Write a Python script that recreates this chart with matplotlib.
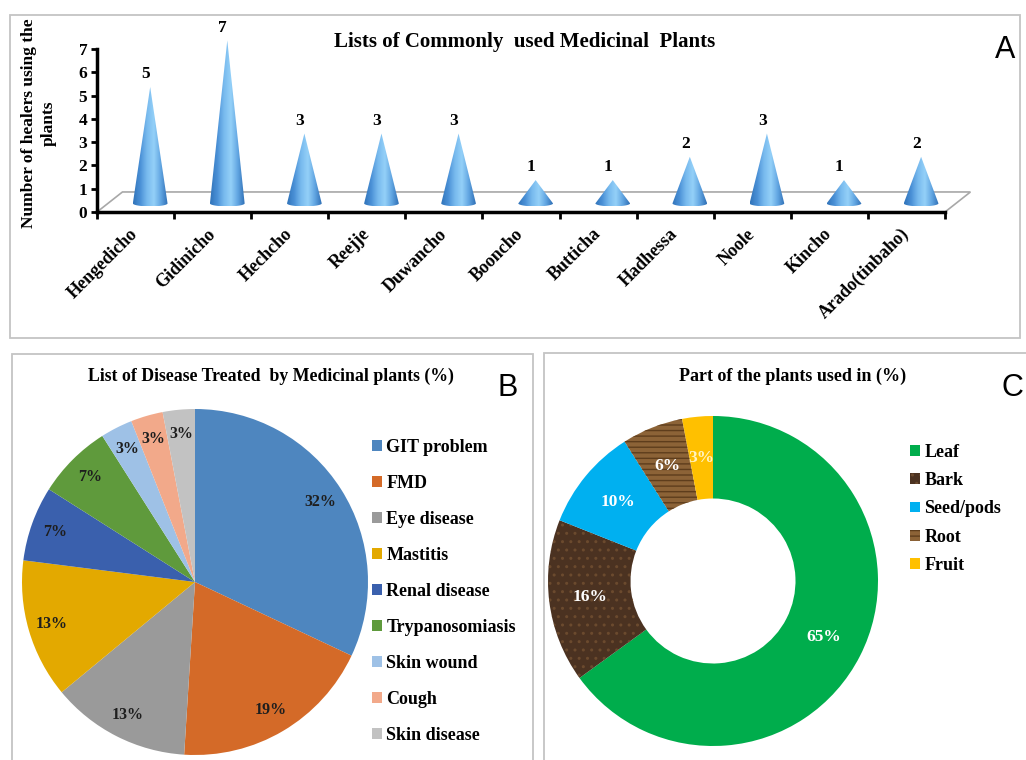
import matplotlib
matplotlib.use("Agg")
import matplotlib.pyplot as plt
import numpy as np
from matplotlib.patches import Polygon, Rectangle
from matplotlib.colors import LinearSegmentedColormap

plt.rcParams['font.family'] = ['Liberation Serif', 'DejaVu Serif']
plt.rcParams['font.weight'] = 'bold'
plt.rcParams['axes.labelweight'] = 'bold'

# panel A data
plants = ['Hengedicho', 'Gidinicho', 'Hechcho', 'Reejje', 'Duwancho', 'Booncho',
          'Butticha', 'Hadhessa', 'Noole', 'Kincho', 'Arado(tinbaho)']
healers = [5, 7, 3, 3, 3, 1, 1, 2, 3, 1, 2]

# panel B data
diseases = ['GIT problem', 'FMD', 'Eye disease', 'Mastitis', 'Renal disease',
            'Trypanosomiasis', 'Skin wound', 'Cough', 'Skin disease']
disease_pct = [32, 19, 13, 13, 7, 7, 3, 3, 3]
disease_colors = ['#4e86bf', '#d46a28', '#9a9a9a', '#e3a900', '#3a60ad',
                  '#5f9a3c', '#9ec1e6', '#f2a98a', '#c2c2c2']

# panel C data
parts = ['Leaf', 'Bark', 'Seed/pods', 'Root', 'Fruit']
part_pct = [65, 16, 10, 6, 3]
part_colors = ['#00ad4c', '#4b3221', '#00b0f0', '#8c6337', '#ffc000']

W, H = 1026, 760
fig = plt.figure(figsize=(W / 100, H / 100), dpi=100)

def fx(px):
    return px / W

def fy(py):
    return 1 - py / H

# frames
frame_kw = dict(transform=fig.transFigure, fill=False, edgecolor='#c4c4c4', lw=1.3)
fig.patches.append(Rectangle((fx(10), fy(338)), fx(1010), 323 / H, **frame_kw))
fig.patches.append(Rectangle((fx(12), fy(762)), fx(521), 408 / H, **frame_kw))
fig.patches.append(Rectangle((fx(544), fy(762)), fx(490), 409 / H, **frame_kw))

# ---------------- A: cones ----------------
ax = fig.add_axes([fx(97), fy(212), fx(848), 7.6 * 23.29 / H])
for s in ['top', 'right']:
    ax.spines[s].set_visible(False)
ax.spines['left'].set_bounds(0, 7)
ax.spines['bottom'].set_bounds(-0.5, 10.5)
ax.spines['left'].set_linewidth(2.5)
ax.spines['bottom'].set_linewidth(2.5)
ax.set_yticks(range(8))
ax.tick_params(axis='y', direction='out', length=4, width=2, labelsize=12.5, pad=3)
ax.set_xticks(np.arange(-0.5, 11, 1))
ax.set_xticklabels([])
ax.tick_params(axis='x', which='major', direction='out', length=5, width=2)
ax.set_xticks(range(len(plants)), minor=True)
ax.set_xticklabels(plants, minor=True, rotation=45, ha='right', va='center',
                   rotation_mode='anchor', fontsize=13)
ax.tick_params(axis='x', which='minor', length=0, pad=14)
ax.set_ylabel('Number of healers using the\nplants', fontsize=12.5, labelpad=16,
              linespacing=1.3)

dx, dy = 0.19, 0.37
floor = Polygon([(-0.5, 0), (10.5, 0), (10.5 + 0.33, 0.86), (-0.5 + 0.33, 0.86)],
                closed=True, facecolor='white', edgecolor='#a8a8a8', lw=1.2,
                clip_on=False, zorder=1)
ax.add_patch(floor)

cone_cmap = LinearSegmentedColormap.from_list(
    'cone', ['#3174ba', '#4a90d6', '#78baee', '#94d0f8', '#62a6e2', '#3070b6'])
grad = np.linspace(0, 1, 64).reshape(1, -1)
w, eh = 0.225, 0.13
t = np.linspace(0, -np.pi, 40)
for i, v in enumerate(healers):
    cx = i + dx
    top = v + dy
    pts = [(cx, top)] + list(zip(cx + w * np.cos(t), dy + eh * np.sin(t)))
    cone = Polygon(pts, closed=True, facecolor='none', edgecolor='none',
                   transform=ax.transData)
    ax.add_patch(cone)
    im = ax.imshow(grad, cmap=cone_cmap, aspect='auto',
                   extent=(cx - w, cx + w, dy - eh, top), zorder=3)
    im.set_clip_path(cone)
    ax.text(i + dx - 0.06, top + 0.2, str(v), ha='center', va='bottom',
            fontsize=12.5, clip_on=False)
ax.set_xlim(-0.5, 10.5)
ax.set_ylim(0, 7.6)

fig.text(fx(525), fy(42), 'Lists of Commonly  used Medicinal  Plants',
         ha='center', va='center', fontsize=15)
fig.text(fx(1005), fy(50), 'A', ha='center', va='center', fontsize=22,
         fontweight='normal', family='Liberation Sans')

# ---------------- B: pie ----------------
axb = fig.add_axes([fx(22), fy(755), fx(346), 346 / H])
wedges_b, _, autos_b = axb.pie(disease_pct, colors=disease_colors, startangle=90,
                               counterclock=False, autopct=lambda p: '%.0f%%' % p,
                               pctdistance=0.86,
                               wedgeprops=dict(linewidth=0),
                               textprops=dict(fontsize=11.5, color='#1e1e1e'))
axb.set_xlim(-1, 1)
axb.set_ylim(-1, 1)
fig.text(fx(271), fy(376), 'List of Disease Treated  by Medicinal plants (%)',
         ha='center', va='center', fontsize=12.8)
fig.text(fx(508), fy(388), 'B', ha='center', va='center', fontsize=22,
         fontweight='normal', family='Liberation Sans')
fig.legend(wedges_b, diseases, loc='upper left', bbox_to_anchor=(fx(372), fy(439)),
           frameon=False, fontsize=13, handlelength=0.55, handleheight=0.55,
           handletextpad=0.25, labelspacing=1.05, borderpad=0, borderaxespad=0)

# ---------------- C: donut ----------------
axc = fig.add_axes([fx(548), fy(746), fx(330), 330 / H])
wedges_c, _, autos_c = axc.pie(part_pct, colors=part_colors, startangle=90,
                               counterclock=False, autopct=lambda p: '%.0f%%' % p,
                               pctdistance=0.75,
                               wedgeprops=dict(width=0.5, linewidth=0),
                               textprops=dict(fontsize=12.5, color='white'))
wedges_c[3].set_hatch('---')
wedges_c[3].set_edgecolor('#5e3d1c')
wedges_c[1].set_hatch('..')
wedges_c[1].set_edgecolor('#6b4a2e')
autos_c[4].set_color('#fff3c0')
axc.set_xlim(-1, 1)
axc.set_ylim(-1, 1)
fig.text(fx(793), fy(376), 'Part of the plants used in (%)',
         ha='center', va='center', fontsize=13)
fig.text(fx(1012), fy(388), 'C', ha='center', va='center', fontsize=22,
         fontweight='normal', family='Liberation Sans')
fig.legend(wedges_c, parts, loc='upper left', bbox_to_anchor=(fx(910), fy(444)),
           frameon=False, fontsize=13, handlelength=0.55, handleheight=0.55,
           handletextpad=0.25, labelspacing=0.62, borderpad=0, borderaxespad=0)

fig.savefig('out.png', dpi=100)
